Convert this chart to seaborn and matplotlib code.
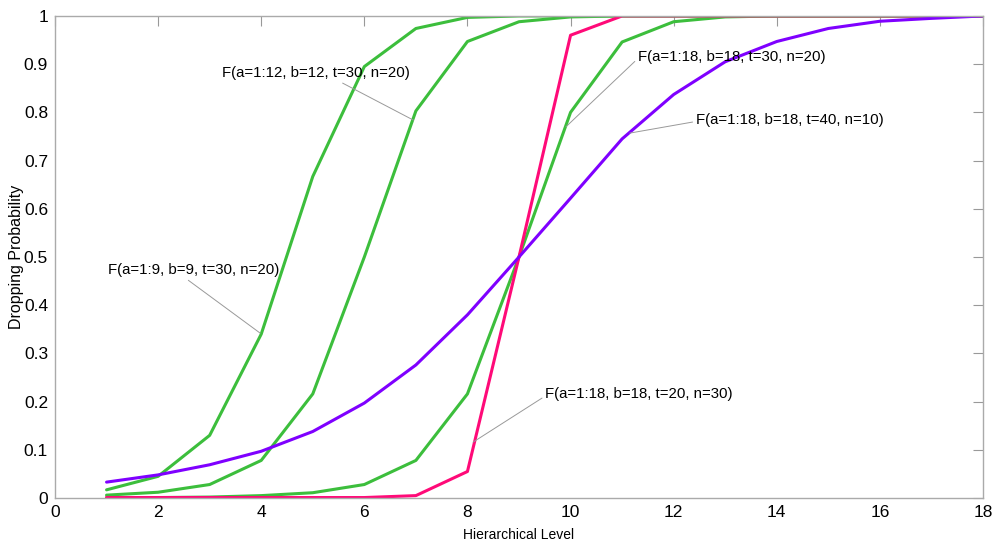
import numpy as np
import pandas as pd
import seaborn as sns
import matplotlib.pyplot as plt
from matplotlib.ticker import FuncFormatter

# hierarchical levels 1..18
levels = list(range(1, 19))

# curves
f_9_30_20 = [0.017, 0.045, 0.13, 0.34, 0.667, 0.895, 0.974, 0.997, 1.0,
             1.0, 1.0, 1.0, 1.0, 1.0, 1.0, 1.0, 1.0, 1.0]
f_12_30_20 = [0.006, 0.012, 0.028, 0.078, 0.216, 0.5, 0.803, 0.947, 0.988,
              0.998, 1.0, 1.0, 1.0, 1.0, 1.0, 1.0, 1.0, 1.0]
f_18_30_20 = [0.001, 0.001, 0.002, 0.005, 0.011, 0.028, 0.078, 0.216, 0.5,
              0.80, 0.946, 0.988, 0.998, 1.0, 1.0, 1.0, 1.0, 1.0]
f_18_20_30 = [0.001, 0.001, 0.001, 0.001, 0.001, 0.001, 0.005, 0.055, 0.5,
              0.96, 1.0, 1.0, 1.0, 1.0, 1.0, 1.0, 1.0, 1.0]
f_18_40_10 = [0.033, 0.048, 0.069, 0.097, 0.138, 0.197, 0.276, 0.38, 0.5,
              0.622, 0.745, 0.837, 0.905, 0.947, 0.974, 0.989, 0.995, 1.0]

names = ["F(a=1:9, b=9, t=30, n=20)", "F(a=1:12, b=12, t=30, n=20)",
         "F(a=1:18, b=18, t=30, n=20)", "F(a=1:18, b=18, t=20, n=30)",
         "F(a=1:18, b=18, t=40, n=10)"]
series = [f_9_30_20, f_12_30_20, f_18_30_20, f_18_20_30, f_18_40_10]

df = pd.concat([pd.DataFrame({"level": levels, "p": s, "curve": n})
                for n, s in zip(names, series)])

green = "#3cbe3c"
palette = {names[0]: green, names[1]: green, names[2]: green,
           names[3]: "#ff0a78", names[4]: "#7f00ff"}

sns.set_style("white")
plt.rcParams['font.family'] = ['Liberation Sans', 'DejaVu Sans']
plt.rcParams['text.color'] = 'black'
plt.rcParams['axes.labelcolor'] = 'black'
plt.rcParams['xtick.labelcolor'] = 'black'
plt.rcParams['ytick.labelcolor'] = 'black'

fig = plt.figure(figsize=(10, 5.5), dpi=100)
ax = fig.add_axes([0.055, 0.0945, 0.928, 0.8765])

sns.lineplot(data=df, x="level", y="p", hue="curve", palette=palette,
             hue_order=names, linewidth=2.2, legend=False, ax=ax)

ax.set_xlim(0, 18)
ax.set_ylim(0, 1)
ax.set_xticks(np.arange(0, 19, 2))
ax.set_yticks(np.arange(0, 1.01, 0.1))
ax.yaxis.set_major_formatter(FuncFormatter(lambda v, _: f"{v:.1f}".rstrip("0").rstrip(".") if v else "0"))
ax.tick_params(direction="in", length=7, width=0.8, color="#999999",
               top=True, right=True, labelsize=12.5, pad=5)
for s in ax.spines.values():
    s.set_color("#aaaaaa")
    s.set_linewidth(1)

ax.set_xlabel("Hierarchical Level", fontsize=10, labelpad=6)
ax.set_ylabel("Dropping Probability", fontsize=11.5, labelpad=0)

line = dict(arrowstyle="-", color="#999999", lw=0.7, shrinkA=0, shrinkB=0)
fs = 10.8
ax.annotate(names[1], xy=(6.95, 0.784), xytext=(3.24, 0.882), fontsize=fs,
            va="center", ha="left", arrowprops=dict(line, relpos=(0.58, 0.2)))
ax.annotate(names[0], xy=(3.98, 0.342), xytext=(1.03, 0.473), fontsize=fs,
            va="center", ha="left", arrowprops=dict(line, relpos=(0.42, 0.2)))
ax.annotate(names[2], xy=(9.91, 0.770), xytext=(11.31, 0.915), fontsize=fs,
            va="center", ha="left", arrowprops=dict(line, relpos=(0, 0.4)))
ax.annotate(names[4], xy=(11.15, 0.757), xytext=(12.43, 0.784), fontsize=fs,
            va="center", ha="left", arrowprops=dict(line, relpos=(0, 0.4)))
ax.annotate(names[3], xy=(8.11, 0.116), xytext=(9.51, 0.216), fontsize=fs,
            va="center", ha="left", arrowprops=dict(line, relpos=(0, 0.35)))

fig.savefig("out.png", dpi=100)
